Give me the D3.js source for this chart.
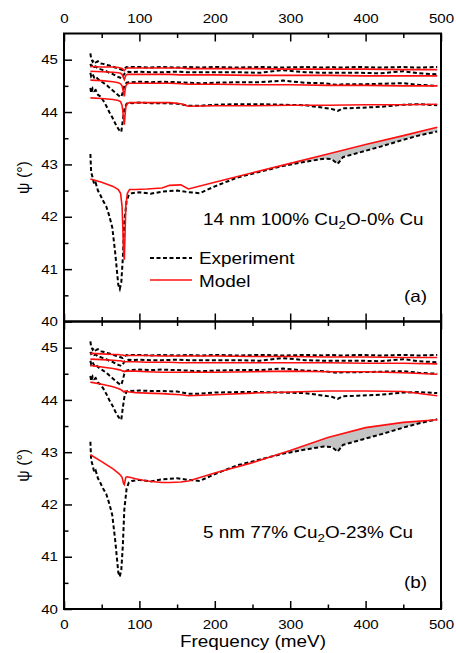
<!DOCTYPE html>
<meta charset="utf-8">
<style>
    body { margin: 0; background: #fff; }
    text { font-family: "Liberation Sans", Arial, sans-serif; fill: #000; }
    .axis .domain { display: none; }
    .axis line { stroke: #000; stroke-width: 1.5; }
    .axis text { font-size: 13px; }
    .exp { fill: none; stroke: #000; stroke-width: 2; stroke-dasharray: 4,2.5; }
    .model { fill: none; stroke: #ff1010; stroke-width: 1.6; }
    .gap { fill: #c4c4c4; stroke: none; }
</style>
<svg width="456" height="653"></svg>
<script src="https://d3js.org/d3.v7.min.js"></script>
<script>

    // experiment (same measured curves shown in both panels)
    var expX = [35, 36, 38, 40, 42, 45, 48, 52, 56, 60, 64, 68, 72, 74, 76, 78, 80, 83, 86, 90, 100, 115, 130, 150, 165, 180, 200, 230, 260, 290, 320, 345, 355, 363, 370, 390, 420, 450, 470, 495];
    var exp1 = [45.12, 45.02, 44.96, 44.99, 44.95, 44.97, 44.93, 44.92, 44.9, 44.89, 44.87, 44.85, 44.83, 44.82, 44.81, 44.8, 44.83, 44.86, 44.85, 44.86, 44.86, 44.85, 44.86, 44.85, 44.86, 44.85, 44.86, 44.85, 44.86, 44.85, 44.86, 44.85, 44.86, 44.85, 44.85, 44.86, 44.85, 44.86, 44.85, 44.86];
    var exp2 = [44.92, 44.88, 44.9, 44.86, 44.87, 44.83, 44.82, 44.8, 44.78, 44.75, 44.73, 44.7, 44.67, 44.66, 44.65, 44.68, 44.73, 44.76, 44.77, 44.76, 44.77, 44.76, 44.76, 44.77, 44.76, 44.76, 44.76, 44.76, 44.75, 44.8, 44.76, 44.75, 44.75, 44.75, 44.75, 44.75, 44.74, 44.78, 44.74, 44.72];
    var exp3 = [44.75, 44.68, 44.72, 44.66, 44.68, 44.63, 44.6, 44.56, 44.52, 44.47, 44.42, 44.37, 44.32, 44.3, 44.29, 44.38, 44.5, 44.56, 44.57, 44.57, 44.58, 44.57, 44.58, 44.57, 44.56, 44.55, 44.56, 44.57, 44.57, 44.6, 44.56, 44.55, 44.53, 44.52, 44.53, 44.53, 44.54, 44.55, 44.52, 44.5];
    var exp4 = [44.46, 44.36, 44.45, 44.4, 44.42, 44.33, 44.3, 44.22, 44.12, 44.0, 43.9, 43.78, 43.68, 43.64, 43.62, 43.85, 44.05, 44.16, 44.18, 44.17, 44.18, 44.17, 44.17, 44.16, 44.12, 44.12, 44.14, 44.15, 44.15, 44.14, 44.13, 44.08, 44.06, 44.02, 44.07, 44.08, 44.1, 44.14, 44.15, 44.13];
    var exp5 = [43.2, 42.85, 42.75, 42.62, 42.65, 42.5, 42.42, 42.3, 42.2, 42.02, 41.8, 41.3, 40.7, 40.62, 40.75, 41.2, 41.9, 42.3, 42.42, 42.45, 42.47, 42.44, 42.48, 42.5, 42.47, 42.45, 42.58, 42.75, 42.86, 42.97, 43.05, 43.11, 43.1, 43.01, 43.14, 43.22, 43.34, 43.47, 43.55, 43.63];

    // model curves
    var modelX = [35, 50, 65, 72, 75, 77, 78, 79, 80, 81, 82, 84, 87, 95, 110, 130, 140, 155, 165, 200, 250, 300, 350, 400, 450, 495];
    // (a) 14 nm 100% Cu2O-0% Cu
    var modelA1 = [44.87, 44.86, 44.86, 44.85, 44.84, 44.83, 44.82, 44.8, 44.79, 44.81, 44.83, 44.84, 44.84, 44.84, 44.84, 44.84, 44.84, 44.84, 44.83, 44.83, 44.83, 44.82, 44.82, 44.82, 44.81, 44.81];
    var modelA2 = [44.78, 44.77, 44.76, 44.75, 44.74, 44.72, 44.69, 44.65, 44.62, 44.66, 44.7, 44.72, 44.72, 44.72, 44.72, 44.72, 44.72, 44.71, 44.71, 44.71, 44.7, 44.7, 44.7, 44.69, 44.69, 44.69];
    var modelA3 = [44.61, 44.6, 44.58, 44.56, 44.54, 44.5, 44.44, 44.36, 44.3, 44.42, 44.5, 44.54, 44.55, 44.55, 44.55, 44.55, 44.55, 44.54, 44.53, 44.53, 44.52, 44.52, 44.51, 44.51, 44.5, 44.5];
    var modelA4 = [44.27, 44.26, 44.24, 44.22, 44.2, 44.13, 44.02, 43.88, 43.76, 43.95, 44.1, 44.16, 44.18, 44.18, 44.18, 44.18, 44.18, 44.16, 44.11, 44.12, 44.12, 44.13, 44.13, 44.14, 44.14, 44.15];
    var modelA5 = [42.72, 42.66, 42.58, 42.52, 42.45, 42.2, 41.8, 41.35, 41.18, 41.7, 42.2, 42.45, 42.52, 42.52, 42.53, 42.55, 42.6, 42.61, 42.53, 42.66, 42.84, 43.02, 43.2, 43.38, 43.55, 43.71];
    // (b) 5 nm 77% Cu2O-23% Cu
    var modelB1 = [44.89, 44.88, 44.87, 44.87, 44.86, 44.86, 44.86, 44.85, 44.85, 44.85, 44.85, 44.85, 44.85, 44.85, 44.85, 44.84, 44.84, 44.84, 44.84, 44.84, 44.83, 44.83, 44.82, 44.82, 44.81, 44.81];
    var modelB2 = [44.78, 44.77, 44.76, 44.75, 44.75, 44.74, 44.74, 44.73, 44.73, 44.73, 44.73, 44.73, 44.73, 44.73, 44.72, 44.72, 44.72, 44.71, 44.71, 44.71, 44.71, 44.71, 44.71, 44.7, 44.7, 44.69];
    var modelB3 = [44.66, 44.63, 44.6, 44.58, 44.57, 44.56, 44.55, 44.55, 44.54, 44.55, 44.55, 44.55, 44.55, 44.55, 44.54, 44.53, 44.53, 44.53, 44.53, 44.53, 44.54, 44.55, 44.54, 44.54, 44.52, 44.49];
    var modelB4 = [44.34, 44.3, 44.25, 44.22, 44.2, 44.18, 44.17, 44.15, 44.15, 44.17, 44.17, 44.16, 44.15, 44.14, 44.13, 44.12, 44.11, 44.1, 44.08, 44.1, 44.13, 44.15, 44.17, 44.17, 44.16, 44.08];
    var modelB5 = [42.95, 42.82, 42.68, 42.6, 42.56, 42.52, 42.46, 42.4, 42.38, 42.45, 42.52, 42.53, 42.52, 42.49, 42.45, 42.42, 42.42, 42.43, 42.45, 42.6, 42.8, 43.03, 43.28, 43.47, 43.57, 43.62];

    var xTicks = [0, 100, 200, 300, 400, 500];
    var xMinor = [50, 150, 250, 350, 450];
    var yTicks = [40, 41, 42, 43, 44, 45];
    var yMinor = [40.5, 41.5, 42.5, 43.5, 44.5];

    var svg = d3.select("svg");
    var x = d3.scaleLinear().domain([0, 500]).range([64, 441]);
    var stretch = 1.16; // lettering in the figure is a little wide

    // widen a text element around its own anchor point
    function widen(sel) {
        sel.each(function () {
            var t = d3.select(this);
            var tx = +t.attr("x") || 0, ty = +t.attr("y") || 0;
            t.attr("x", 0).attr("y", 0)
                .attr("transform", "translate(" + tx + "," + ty + ") scale(" + stretch + ",1)");
        });
    }

    function label(px, py, str, anchor) {
        return svg.append("text")
            .attr("x", px).attr("y", py)
            .attr("text-anchor", anchor || "start")
            .attr("font-size", "16.3px")
            .text(str)
            .call(widen);
    }

    var panels = [
        {
            top: 33.5, bottom: 321.5, models: [modelA1, modelA2, modelA3, modelA4, modelA5],
            shade: [270, 495], tag: "(a)", tagY: 302, thick: "14 nm 100% Cu", rest: "O-0% Cu", annY: 225, legend: true
        },
        {
            top: 321.5, bottom: 609, models: [modelB1, modelB2, modelB3, modelB4, modelB5],
            shade: [255, 495], tag: "(b)", tagY: 588, thick: "5 nm 77% Cu", rest: "O-23% Cu", annY: 538, legend: false
        }
    ];
    var exps = [exp1, exp2, exp3, exp4, exp5];

    panels.forEach(function (p, i) {
        var y = d3.scaleLinear().domain([40, 45.5]).range([p.bottom, p.top]);
        var line = d3.line()
            .x(function (d) { return x(d[0]); })
            .y(function (d) { return y(d[1]); });
        var g = svg.append("g");

        // grey area between model and experiment of the lowest pair
        var m5 = modelX.map(function (v, k) { return [v, p.models[4][k]]; })
            .filter(function (d) { return d[0] >= p.shade[0] && d[0] <= p.shade[1]; });
        var e5 = expX.map(function (v, k) { return [v, exp5[k]]; })
            .filter(function (d) { return d[0] >= p.shade[0] && d[0] <= p.shade[1]; }).reverse();
        g.append("path").attr("class", "gap").attr("d", line(m5.concat(e5)) + "Z");

        exps.forEach(function (e) {
            g.append("path").attr("class", "exp")
                .attr("d", line(expX.map(function (v, k) { return [v, e[k]]; })));
        });
        p.models.forEach(function (m) {
            g.append("path").attr("class", "model")
                .attr("d", line(modelX.map(function (v, k) { return [v, m[k]]; })));
        });

        // axes, ticks pointing inward
        svg.append("g").attr("class", "axis").attr("transform", "translate(64,0)")
            .call(d3.axisLeft(y).tickValues(yTicks).tickSize(-8).tickPadding(6).tickFormat(d3.format("d")))
            .selectAll("text").call(widen);
        svg.append("g").attr("class", "axis").attr("transform", "translate(64,0)")
            .call(d3.axisLeft(y).tickValues(yMinor).tickSize(-4.5).tickFormat(""));

        var topAxis = d3.axisTop(x).tickValues(xTicks).tickSize(-8).tickPadding(11);
        if (i > 0) topAxis.tickFormat("");
        svg.append("g").attr("class", "axis").attr("transform", "translate(0," + p.top + ")")
            .call(topAxis).selectAll("text").call(widen);
        svg.append("g").attr("class", "axis").attr("transform", "translate(0," + p.top + ")")
            .call(d3.axisTop(x).tickValues(xMinor).tickSize(-4.5).tickFormat(""));

        var botAxis = d3.axisBottom(x).tickValues(xTicks).tickSize(-8).tickPadding(11);
        if (i === 0) botAxis.tickFormat("");
        svg.append("g").attr("class", "axis").attr("transform", "translate(0," + p.bottom + ")")
            .call(botAxis).selectAll("text").call(widen);
        svg.append("g").attr("class", "axis").attr("transform", "translate(0," + p.bottom + ")")
            .call(d3.axisBottom(x).tickValues(xMinor).tickSize(-4.5).tickFormat(""));

        svg.append("rect")
            .attr("x", 64).attr("y", p.top)
            .attr("width", 441 - 64).attr("height", p.bottom - p.top)
            .attr("fill", "none").attr("stroke", "#000").attr("stroke-width", 2);

        svg.append("text")
            .attr("transform", "translate(29," + ((p.top + p.bottom) / 2) + ") rotate(-90)")
            .attr("text-anchor", "middle")
            .attr("font-size", "16px")
            .text("ψ (°)");

        var ann = svg.append("text")
            .attr("transform", "translate(203," + p.annY + ") scale(" + stretch + ",1)")
            .attr("font-size", "16.3px");
        ann.append("tspan").text(p.thick);
        ann.append("tspan").attr("dy", 4).attr("font-size", "11.5px").text("2");
        ann.append("tspan").attr("dy", -4).text(p.rest);

        label(427, p.tagY, p.tag, "end");

        if (p.legend) {
            svg.append("line").attr("class", "exp")
                .attr("x1", 150).attr("x2", 192).attr("y1", 258).attr("y2", 258);
            label(199, 264, "Experiment");
            svg.append("line").attr("class", "model")
                .attr("x1", 150).attr("x2", 192).attr("y1", 280).attr("y2", 280);
            label(199, 286.5, "Model");
        }
    });

    label(253, 647, "Frequency (meV)", "middle");

</script>
